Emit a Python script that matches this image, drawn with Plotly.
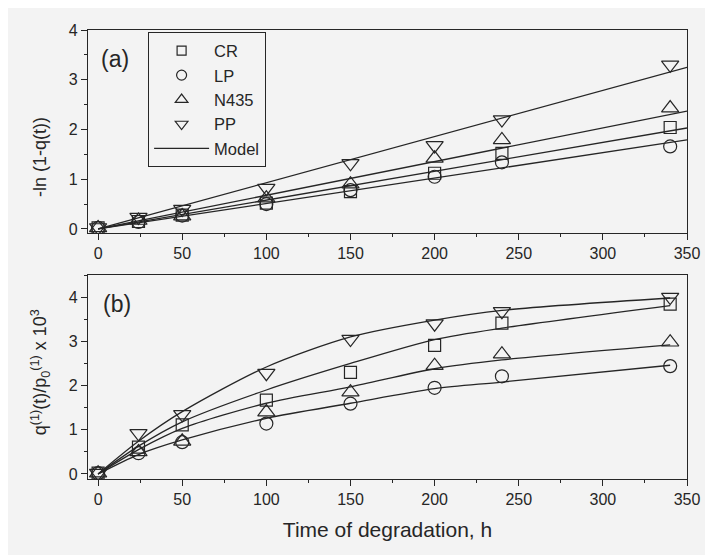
import plotly.graph_objects as go

# ---------------- data ----------------
hours = [0, 24, 50, 100, 150, 200, 240, 340]

# panel (a): -ln(1-q(t))
a_CR = [0.02, 0.15, 0.28, 0.52, 0.75, 1.12, 1.52, 2.04]
a_LP = [0.02, 0.14, 0.27, 0.50, 0.78, 1.05, 1.34, 1.66]
a_N435 = [0.02, 0.17, 0.26, 0.62, 0.90, 1.42, 1.79, 2.43]
a_PP = [0.03, 0.24, 0.40, 0.82, 1.32, 1.68, 2.20, 3.30]

a_model_x = [0, 350]
a_model_CR = [0.0, 2.03]
a_model_LP = [0.0, 1.79]
a_model_N435 = [0.0, 2.37]
a_model_PP = [0.0, 3.25]

# panel (b): q(1)(t)/p0(1) x 10^3
b_CR = [0.02, 0.61, 1.11, 1.67, 2.30, 2.91, 3.41, 3.84]
b_LP = [0.02, 0.47, 0.72, 1.14, 1.59, 1.95, 2.21, 2.44]
b_N435 = [0.02, 0.50, 0.74, 1.40, 1.85, 2.45, 2.71, 2.98]
b_PP = [0.02, 0.92, 1.35, 2.28, 3.05, 3.40, 3.68, 4.00]

b_model_x = [0, 24, 50, 100, 150, 200, 240, 340]
b_model_CR = [0.0, 0.63, 1.18, 1.90, 2.50, 3.04, 3.30, 3.81]
b_model_LP = [0.0, 0.44, 0.77, 1.26, 1.60, 1.93, 2.08, 2.46]
b_model_N435 = [0.0, 0.55, 1.03, 1.60, 1.97, 2.38, 2.58, 2.92]
b_model_PP = [0.0, 0.74, 1.41, 2.42, 3.10, 3.48, 3.70, 3.98]

series_names = ["CR", "LP", "N435", "PP"]
x_ticks = [0, 50, 100, 150, 200, 250, 300, 350]
y_ticks = [0, 1, 2, 3, 4]

# ---------------- style ----------------
INK = "#262626"
BG = "#f3f3f3"
FONT = "Liberation Sans, Arial, sans-serif"
symbols = {"CR": "square-open", "LP": "circle-open",
           "N435": "triangle-up-open", "PP": "triangle-down-open"}
sizes = {"CR": 12, "LP": 13, "N435": 15, "PP": 15}
legend_sizes = {"CR": 9, "LP": 10, "N435": 11, "PP": 11}

a_data = {"CR": a_CR, "LP": a_LP, "N435": a_N435, "PP": a_PP}
a_model = {"CR": a_model_CR, "LP": a_model_LP, "N435": a_model_N435, "PP": a_model_PP}
b_data = {"CR": b_CR, "LP": b_LP, "N435": b_N435, "PP": b_PP}
b_model = {"CR": b_model_CR, "LP": b_model_LP, "N435": b_model_N435, "PP": b_model_PP}

fig = go.Figure()

# model lines panel (a)
for n in series_names:
    fig.add_trace(go.Scatter(
        x=a_model_x, y=a_model[n], mode="lines", xaxis="x", yaxis="y",
        line=dict(color=INK, width=1.3), name="Model",
        showlegend=False, hoverinfo="skip"))
# model lines panel (b)
for n in series_names:
    fig.add_trace(go.Scatter(
        x=b_model_x, y=b_model[n], mode="lines", xaxis="x2", yaxis="y2",
        line=dict(color=INK, width=1.3, shape="spline", smoothing=0.8),
        name="Model", showlegend=False, hoverinfo="skip"))

# markers panel (a)
for n in series_names:
    fig.add_trace(go.Scatter(
        x=hours, y=a_data[n], mode="markers", xaxis="x", yaxis="y",
        name=n, showlegend=False,
        marker=dict(symbol=symbols[n], size=sizes[n], color=INK,
                    line=dict(width=1.2, color=INK))))
# markers panel (b)
for n in series_names:
    fig.add_trace(go.Scatter(
        x=hours, y=b_data[n], mode="markers", xaxis="x2", yaxis="y2",
        name=n, showlegend=False,
        marker=dict(symbol=symbols[n], size=sizes[n], color=INK,
                    line=dict(width=1.2, color=INK))))

# legend entries (smaller symbols, like the original key)
for n in series_names:
    fig.add_trace(go.Scatter(
        x=[None], y=[None], mode="markers", xaxis="x", yaxis="y", name=n,
        marker=dict(symbol=symbols[n], size=legend_sizes[n], color=INK,
                    line=dict(width=1.2, color=INK))))
fig.add_trace(go.Scatter(
    x=[None], y=[None], mode="lines", xaxis="x", yaxis="y",
    line=dict(color=INK, width=1.3), name="Model"))

axis_common = dict(
    showline=True, linecolor=INK, linewidth=1.2, mirror=True,
    ticks="outside", ticklen=6, tickwidth=1.1, tickcolor=INK,
    showgrid=False, zeroline=False,
    tickfont=dict(family=FONT, size=16, color=INK),
)

# the page body adds an 8px offset, margins compensate
fig.update_layout(
    width=713, height=555,
    paper_bgcolor=BG, plot_bgcolor=BG,
    margin=dict(l=80, r=34, t=22, b=84),
    font=dict(family=FONT, color=INK),
    xaxis=dict(domain=[0, 1], range=[-6, 350], anchor="y",
               tickvals=x_ticks,
               minor=dict(dtick=25, tick0=0, ticks="outside", ticklen=3,
                          tickcolor=INK),
               **axis_common),
    yaxis=dict(domain=[0.548, 1], range=[-0.08, 4.0], anchor="x",
               tickvals=y_ticks,
               minor=dict(dtick=0.5, tick0=0, ticks="outside", ticklen=3,
                          tickcolor=INK),
               **axis_common),
    xaxis2=dict(domain=[0, 1], range=[-6, 350], anchor="y2",
                tickvals=x_ticks,
                minor=dict(dtick=25, tick0=0, ticks="outside", ticklen=3,
                           tickcolor=INK),
                title=dict(text="Time of degradation, h",
                           font=dict(family=FONT, size=21, color=INK),
                           standoff=15),
                **axis_common),
    yaxis2=dict(domain=[0, 0.4543], range=[-0.113, 4.5], anchor="x2",
                tickvals=y_ticks,
                minor=dict(dtick=0.5, tick0=0, ticks="outside", ticklen=3,
                           tickcolor=INK),
                **axis_common),
    legend=dict(x=0.1, y=0.995, xanchor="left", yanchor="top",
                bgcolor=BG, bordercolor=INK, borderwidth=1.2,
                font=dict(family=FONT, size=16.5, color=INK),
                itemwidth=55, entrywidth=130, traceorder="normal"),
    annotations=[
        dict(text="(a)", xref="x domain", yref="y domain", x=0.018, y=0.857,
             xanchor="left", yanchor="middle", showarrow=False,
             font=dict(family=FONT, size=23, color=INK)),
        dict(text="(b)", xref="x2 domain", yref="y2 domain", x=0.022, y=0.86,
             xanchor="left", yanchor="middle", showarrow=False,
             font=dict(family=FONT, size=23, color=INK)),
        dict(text="-ln (1-q(t))", xref="paper", yref="paper",
             x=-0.0801, y=0.717, textangle=-90, showarrow=False,
             xanchor="center", yanchor="middle",
             font=dict(family=FONT, size=18, color=INK)),
        dict(text="q<sup>(1)</sup>(t)/p<sub>0</sub><sup>(1)</sup> x 10<sup>3</sup>",
             xref="paper", yref="paper",
             x=-0.0801, y=0.238, textangle=-90, showarrow=False,
             xanchor="center", yanchor="middle",
             font=dict(family=FONT, size=18, color=INK)),
    ],
)

fig.write_html("out.html")
